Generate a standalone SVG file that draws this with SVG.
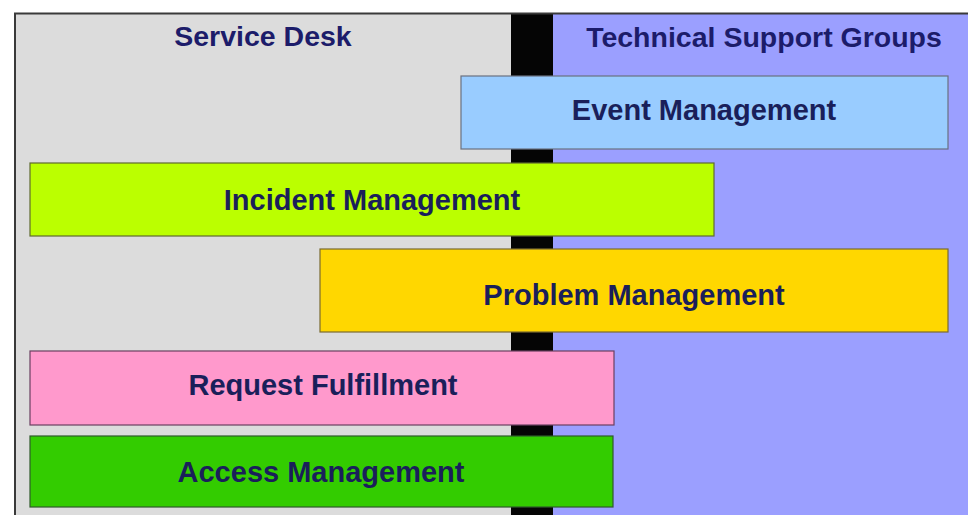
<svg xmlns="http://www.w3.org/2000/svg" width="968" height="515" viewBox="0 0 968 515">
  <style>
    .title { font-family: "Liberation Sans", Arial, sans-serif; font-weight: bold; font-size: 28.5px; fill: #1c1c6a; text-anchor: middle; }
    .label { font-family: "Liberation Sans", Arial, sans-serif; font-weight: bold; font-size: 29px; fill: #1a1f5a; text-anchor: middle; }
    .box { stroke-width: 1.2; }
  </style>
  <rect x="0" y="0" width="968" height="515" fill="#ffffff"/>
  <!-- swimlane backgrounds -->
  <g id="lanes">
    <rect x="16" y="14" width="495" height="501" fill="#dcdcdc"/>
    <rect x="511" y="14" width="42" height="501" fill="#050505"/>
    <rect x="553" y="14" width="415" height="501" fill="#9b9fff"/>
    <path d="M15 515 V13.5 H968" fill="none" stroke="#3a3a3a" stroke-width="2"/>
    <text class="title" x="263" y="46">Service Desk</text>
    <text class="title" x="764" y="47">Technical Support Groups</text>
  </g>
  <g id="connectors"/>
  <g id="event-management">
    <rect class="box" x="461" y="76" width="487" height="73" fill="#99ccff" stroke="#6a7180"/>
    <text class="label" x="704" y="120">Event Management</text>
  </g>
  <g id="incident-management">
    <rect class="box" x="30" y="163" width="684" height="73" fill="#bbff00" stroke="#5f6a30"/>
    <text class="label" x="372" y="210">Incident Management</text>
  </g>
  <g id="problem-management">
    <rect class="box" x="320" y="249" width="628" height="83" fill="#ffd700" stroke="#7a6a30"/>
    <text class="label" x="634" y="305">Problem Management</text>
  </g>
  <g id="request-fulfillment">
    <rect class="box" x="30" y="351" width="584" height="74" fill="#ff99cc" stroke="#6a4060"/>
    <text class="label" x="323" y="395">Request Fulfillment</text>
  </g>
  <g id="access-management">
    <rect class="box" x="30" y="436" width="583" height="71" fill="#33cc00" stroke="#2f5a2a"/>
    <text class="label" x="321" y="482">Access Management</text>
  </g>
</svg>
